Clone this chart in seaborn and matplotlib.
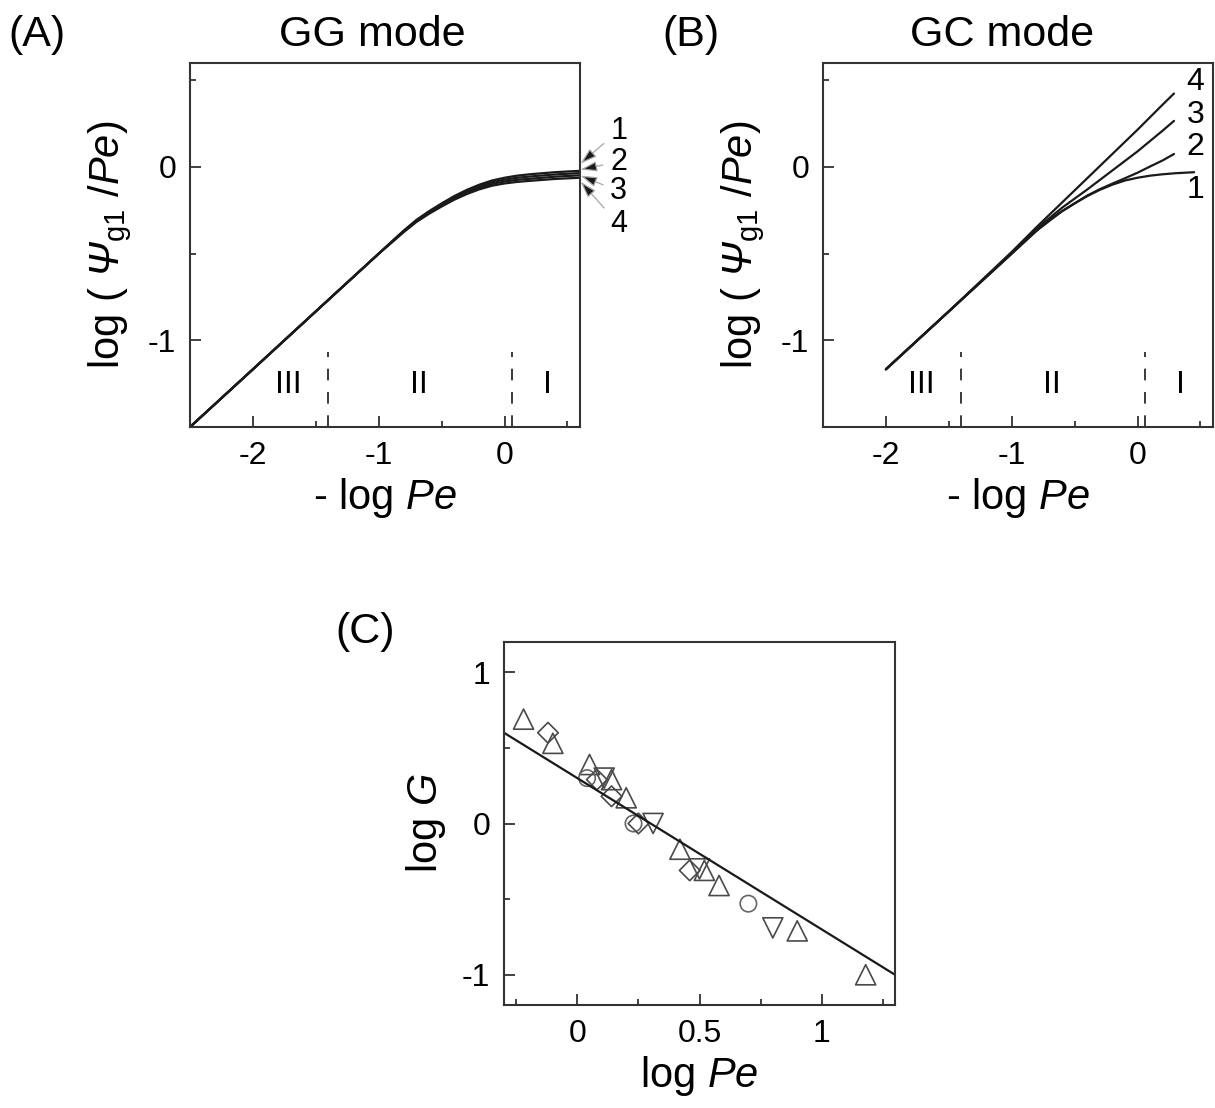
import numpy as np
import pandas as pd
import matplotlib
matplotlib.use("Agg")
import matplotlib.pyplot as plt
from matplotlib.ticker import MultipleLocator, FuncFormatter
import seaborn as sns

# --- data ---
# (A) GG mode, curves 1-4
ga_x = [-2.5, -2.0, -1.5, -1.0, -0.9, -0.8, -0.7, -0.6, -0.5, -0.4, -0.3, -0.2, -0.1, 0.0, 0.1, 0.2, 0.4, 0.6]
ga_y1 = [-1.5, -1.167, -0.833, -0.5, -0.432, -0.366, -0.305, -0.255, -0.21, -0.168, -0.132, -0.102, -0.078, -0.062, -0.05, -0.042, -0.03, -0.022]
ga_y2 = [-1.5, -1.167, -0.833, -0.5, -0.434, -0.369, -0.309, -0.26, -0.216, -0.175, -0.14, -0.111, -0.088, -0.073, -0.062, -0.055, -0.043, -0.035]
ga_y3 = [-1.5, -1.167, -0.833, -0.5, -0.436, -0.372, -0.313, -0.265, -0.222, -0.182, -0.148, -0.12, -0.098, -0.084, -0.074, -0.068, -0.056, -0.048]
ga_y4 = [-1.5, -1.167, -0.833, -0.5, -0.438, -0.375, -0.317, -0.27, -0.228, -0.189, -0.156, -0.129, -0.108, -0.095, -0.086, -0.08, -0.069, -0.062]

# (B) GC mode, curves 1-4
gc_x1 = [-2.0, -1.5, -1.0, -0.9, -0.8, -0.7, -0.6, -0.5, -0.4, -0.3, -0.2, -0.1, 0.0, 0.1, 0.2, 0.3, 0.45]
gc_y1 = [-1.167, -0.833, -0.5, -0.432, -0.366, -0.305, -0.255, -0.21, -0.168, -0.132, -0.102, -0.078, -0.062, -0.05, -0.042, -0.036, -0.03]
gc_x2 = [-2.0, -1.5, -1.0, -0.8, -0.6, -0.4, -0.3, -0.2, -0.1, 0.0, 0.1, 0.2, 0.29]
gc_y2 = [-1.167, -0.833, -0.5, -0.366, -0.255, -0.165, -0.128, -0.096, -0.065, -0.033, 0.003, 0.038, 0.075]
gc_x3 = [-2.0, -1.5, -1.0, -0.8, -0.6, -0.4, -0.2, 0.0, 0.1, 0.2, 0.29]
gc_y3 = [-1.167, -0.833, -0.495, -0.355, -0.235, -0.13, -0.02, 0.09, 0.15, 0.21, 0.266]
gc_x4 = [-2.0, -1.5, -1.0, -0.8, -0.6, -0.4, -0.2, 0.0, 0.2, 0.29]
gc_y4 = [-1.167, -0.833, -0.49, -0.345, -0.205, -0.065, 0.075, 0.215, 0.36, 0.424]

region_lines = [-1.4, 0.06]
region_names = ["III", "II", "I"]
region_x = [-1.72, -0.68, 0.34]

# (C) log G vs log Pe
up_x = [-0.22, -0.10, 0.05, 0.14, 0.20, 0.42, 0.52, 0.58, 0.90, 1.18]
up_y = [0.69, 0.53, 0.39, 0.29, 0.17, -0.17, -0.31, -0.41, -0.71, -1.00]
down_x = [0.11, 0.31, 0.50, 0.80]
down_y = [0.30, 0.0, -0.30, -0.69]
circ_x = [0.04, 0.23, 0.70]
circ_y = [0.30, 0.0, -0.53]
diam_x = [-0.12, 0.08, 0.14, 0.25, 0.46]
diam_y = [0.60, 0.29, 0.18, 0.0, -0.31]
fit_x = [-0.3, 1.3]
fit_y = [0.6, -1.0]

sns.set_theme(style="ticks")
plt.rcParams["font.family"] = ["Liberation Sans", "DejaVu Sans"]
plt.rcParams["mathtext.fontset"] = "custom"
plt.rcParams["mathtext.rm"] = "Liberation Sans"
plt.rcParams["mathtext.it"] = "Liberation Sans:italic"
plt.rcParams["mathtext.sf"] = "Liberation Sans:italic"  # used for the slanted Psi
plt.rcParams["axes.unicode_minus"] = False
plt.rcParams["text.color"] = "black"
plt.rcParams["axes.labelcolor"] = "black"

fig = plt.figure(figsize=(12.15, 11.08), dpi=100)
axA = fig.add_axes([190/1215, 1-427/1108, 390/1215, 364/1108])
axB = fig.add_axes([823/1215, 1-427/1108, 390/1215, 364/1108])
axC = fig.add_axes([504/1215, 1-1005/1108, 391/1215, 363/1108])

fmt = FuncFormatter(lambda v, p: "%g" % v)


def style_ax(ax, xmaj, xmin, ymaj, ymin):
    for sp in ax.spines.values():
        sp.set_color("#333333")
        sp.set_linewidth(1.5)
    ax.xaxis.set_major_locator(MultipleLocator(xmaj))
    ax.xaxis.set_minor_locator(MultipleLocator(xmin))
    ax.yaxis.set_major_locator(MultipleLocator(ymaj))
    ax.yaxis.set_minor_locator(MultipleLocator(ymin))
    ax.xaxis.set_major_formatter(fmt)
    ax.yaxis.set_major_formatter(fmt)
    ax.tick_params(which="both", direction="in", color="#333333", width=1.3,
                   labelsize=23, labelcolor="black", top=False, right=False)
    ax.tick_params(which="major", length=8, pad=10)
    ax.tick_params(which="minor", length=4)


psi_label = r"log ( $\mathsf{Ψ}_{\rm g1}$ /$\mathit{Pe}$)"

# ---- panel A ----
for ys in [ga_y1, ga_y2, ga_y3, ga_y4]:
    sns.lineplot(x=ga_x, y=ys, color="k", lw=1.6, ax=axA, sort=False, estimator=None)
axA.set_xlim(-2.5, 0.6)
axA.set_ylim(-1.5, 0.6)

ends = [0.02, -0.015, -0.05, -0.085]
lab_y = [0.21, 0.03, -0.14, -0.33]
for i in range(4):
    axA.annotate(str(i + 1), xy=(0.605, ends[i]), xytext=(0.84, lab_y[i]),
                 fontsize=22, ha="left", va="center", annotation_clip=False,
                 arrowprops=dict(arrowstyle="-|>,head_length=0.45,head_width=0.14",
                                 fc="k", ec="0.65", lw=0.9, shrinkA=3, shrinkB=0))

# ---- panel B ----
for xs, ys in [(gc_x1, gc_y1), (gc_x2, gc_y2), (gc_x3, gc_y3), (gc_x4, gc_y4)]:
    sns.lineplot(x=xs, y=ys, color="k", lw=1.6, ax=axB, sort=False, estimator=None)
axB.set_xlim(-2.5, 0.6)
axB.set_ylim(-1.5, 0.6)
for lab, yy in zip(["4", "3", "2", "1"], [0.49, 0.30, 0.114, -0.135]):
    axB.text(0.46, yy, lab, fontsize=23, ha="center", va="center")

for ax in [axA, axB]:
    for xv in region_lines:
        ax.plot([xv, xv], [-1.5, -1.07], color="k", lw=1.2, dashes=(7, 7))
    for nm, xv in zip(region_names, region_x):
        ax.text(xv, -1.255, nm, fontsize=23, ha="center", va="center")
    style_ax(ax, 1, 0.5, 1, 0.5)
    ax.set_xlabel(r"- log $\mathit{Pe}$", fontsize=30, labelpad=4)
    ax.set_ylabel(psi_label, fontsize=30, labelpad=10)

# ---- panel C ----
sns.lineplot(x=fit_x, y=fit_y, color="k", lw=1.6, ax=axC)
mk_col = "#4a4a4a"
sns.scatterplot(x=up_x, y=up_y, marker="^", s=210, facecolor="none", edgecolor=mk_col, linewidth=1.2, ax=axC)
sns.scatterplot(x=down_x, y=down_y, marker="v", s=210, facecolor="none", edgecolor=mk_col, linewidth=1.2, ax=axC)
sns.scatterplot(x=circ_x, y=circ_y, marker="o", s=140, facecolor="none", edgecolor="#666666", linewidth=1.2, ax=axC)
sns.scatterplot(x=diam_x, y=diam_y, marker="D", s=110, facecolor="none", edgecolor=mk_col, linewidth=1.2, ax=axC)
axC.set_xlim(-0.3, 1.3)
axC.set_ylim(-1.2, 1.2)
style_ax(axC, 0.5, 0.25, 1, 0.5)
axC.set_xlabel(r"log $\mathit{Pe}$", fontsize=30, labelpad=4)
axC.set_ylabel(r"log $\mathit{G}$", fontsize=30, labelpad=10)

# ---- titles / panel letters ----
fig.text(8/1215, 1-35/1108, "(A)", fontsize=31, ha="left", va="center")
fig.text(372/1215, 1-35/1108, "GG mode", fontsize=31, ha="center", va="center")
fig.text(662/1215, 1-35/1108, "(B)", fontsize=31, ha="left", va="center")
fig.text(1002/1215, 1-35/1108, "GC mode", fontsize=31, ha="center", va="center")
fig.text(335/1215, 1-632/1108, "(C)", fontsize=31, ha="left", va="center")

fig.savefig("out.png", dpi=100, facecolor="white")
